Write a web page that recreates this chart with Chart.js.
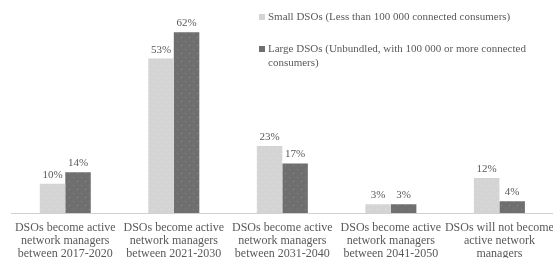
<!DOCTYPE html>
<html>
<head>
<meta charset="utf-8">
<script src="https://cdn.jsdelivr.net/npm/chart.js@4.4.1/dist/chart.umd.min.js"></script>
<style>
  html, body { margin: 0; padding: 0; background: #fff; overflow: hidden; }
  #wrap { width: 553px; height: 258px; overflow: hidden; }
</style>
</head>
<body>
<div id="wrap"><canvas id="chart" width="562" height="258"></canvas></div>
<script>
// categories and values
const categories = [
  ['DSOs become active', 'network managers', 'between 2017-2020'],
  ['DSOs become active', 'network managers', 'between 2021-2030'],
  ['DSOs become active', 'network managers', 'between 2031-2040'],
  ['DSOs become active', 'network managers', 'between 2041-2050'],
  ['DSOs will not become', 'active network', 'managers']
];
const smallDSOs = [10, 53, 23, 3, 12];
const largeDSOs = [14, 62, 17, 3, 4];
const seriesNames = [
  ['Small DSOs (Less than 100 000 connected consumers)'],
  ['Large DSOs (Unbundled, with 100 000 or more connected', 'consumers)']
];

const FONT = '"Liberation Serif", "Times New Roman", serif';
const TEXT = '#595959';

// dotted fill like the original
function dotPattern(base, dot) {
  const c = document.createElement('canvas');
  c.width = 8; c.height = 8;
  const g = c.getContext('2d');
  g.fillStyle = base;
  g.fillRect(0, 0, 8, 8);
  g.fillStyle = dot;
  g.fillRect(1, 1, 1, 1);
  g.fillRect(5, 5, 1, 1);
  return g.createPattern(c, 'repeat');
}

const ctx = document.getElementById('chart').getContext('2d');
const lightFill = dotPattern('#d4d4d4', '#e6e6e6');
const darkFill = dotPattern('#6f6f6f', '#8a8a8a');

// value labels above each bar
const valueLabels = {
  id: 'valueLabels',
  afterDatasetsDraw(chart) {
    const c = chart.ctx;
    c.save();
    c.font = '11px ' + FONT;
    c.fillStyle = TEXT;
    c.textAlign = 'center';
    c.textBaseline = 'alphabetic';
    chart.data.datasets.forEach((ds, i) => {
      chart.getDatasetMeta(i).data.forEach((bar, j) => {
        c.fillText(ds.data[j] + '%', bar.x, bar.y - 6);
      });
    });
    c.restore();
  }
};

// legend on the right, wrapped like the original
const sideLegend = {
  id: 'sideLegend',
  afterDraw(chart) {
    const c = chart.ctx;
    const marks = ['#d4d4d4', '#6f6f6f'];
    const tops = [17, 49];
    c.save();
    c.font = '11px ' + FONT;
    c.fillStyle = TEXT;
    c.textBaseline = 'middle';
    seriesNames.forEach((lines, i) => {
      c.fillStyle = marks[i];
      c.fillRect(259, tops[i] - 3, 6, 6);
      c.fillStyle = TEXT;
      lines.forEach((t, k) => c.fillText(t, 268, tops[i] + k * 14));
    });
    c.restore();
  }
};

new Chart(ctx, {
  type: 'bar',
  data: {
    labels: categories,
    datasets: [
      { label: seriesNames[0].join(' '), data: smallDSOs, backgroundColor: lightFill },
      { label: seriesNames[1].join(' '), data: largeDSOs, backgroundColor: darkFill }
    ]
  },
  options: {
    responsive: false,
    animation: false,
    layout: { padding: { top: 9, left: 11, right: 1, bottom: 0 } },
    datasets: { bar: { categoryPercentage: 0.47, barPercentage: 1 } },
    plugins: { legend: { display: false }, tooltip: { enabled: false } },
    scales: {
      y: { display: false, min: 0, max: 70 },
      x: {
        grid: { display: false, drawTicks: false },
        border: { color: '#d0d0d0', width: 1 },
        afterFit(scale) { scale.height = 45; },
        ticks: {
          color: TEXT,
          font: { family: FONT, size: 12, lineHeight: 1.08 },
          padding: 8,
          maxRotation: 0,
          autoSkip: false
        }
      }
    }
  },
  plugins: [valueLabels, sideLegend]
});
</script>
</body>
</html>
